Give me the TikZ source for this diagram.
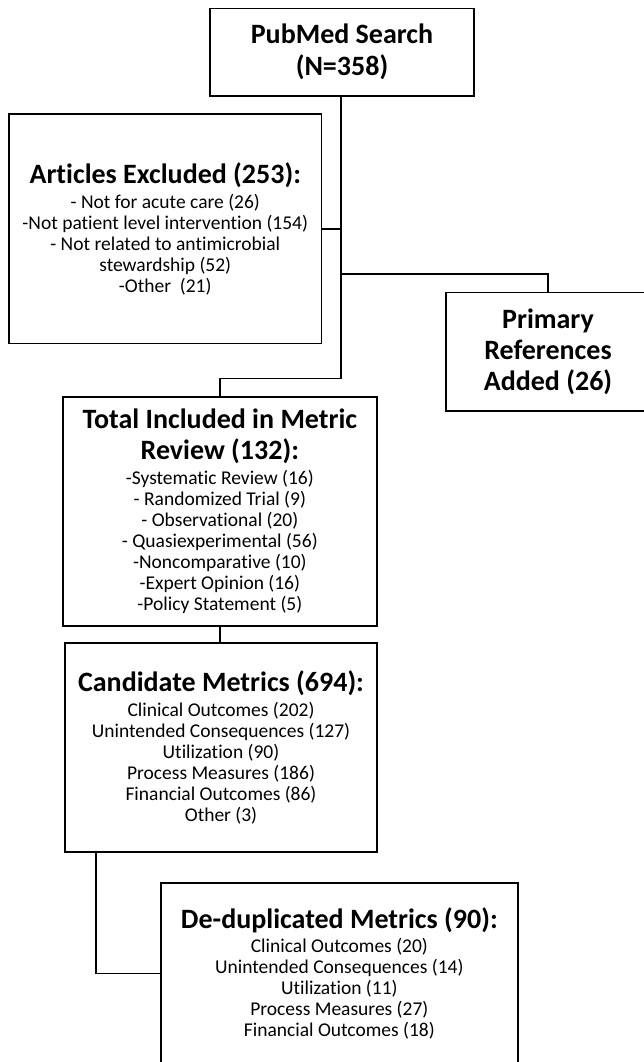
\documentclass[tikz,border=0pt]{standalone}
\usepackage{fontspec}
\setmainfont{Carlito}[Ligatures=NoCommon]
\usetikzlibrary{calc}
\newcommand{\hdr}{\fontsize{28}{21}\selectfont\bfseries}
\newcommand{\bdy}{\fontsize{19.5}{21}\selectfont\lineskiplimit=-50pt\lineskip=0pt}
\tikzset{
  box/.style={draw=black, line width=1.6pt, align=center, inner sep=0pt,
    font=\bdy, anchor=center},
  conn/.style={draw=black, line width=1.6pt}
}
\begin{document}
\begin{tikzpicture}[x=1pt,y=1pt]
\useasboundingbox (0,0) rectangle (644,-1062);
\clip (0,0) rectangle (644,-1062);
\fill[white] (0,0) rectangle (644,-1062);

\node[box, minimum width=264, minimum height=87.7] (pub) at (342,-52.2)
  {{\hdr PubMed Search}\\[11pt]{\hdr (N=358)}};

\node[box, minimum width=312.5, minimum height=229] (art) at (165.25,-228.8)
  {{\hdr Articles Excluded (253):}\\[3.5pt]
   - Not for acute care (26)\\
   -Not patient level intervention (154)\\
   - Not related to antimicrobial\\
   stewardship (52)\\
   -Other~ (21)};

\node[box, minimum width=204, minimum height=118.7] (prim) at (548,-351.7)
  {{\hdr Primary}\\[10pt]{\hdr References}\\[10pt]{\hdr Added (26)}};

\node[box, minimum width=314.3, minimum height=229] (tot) at (219.85,-511.2)
  {{\hdr Total Included in Metric}\\[10pt]{\hdr Review (132):}\\[3.5pt]
   -Systematic Review (16)\\
   - Randomized Trial (9)\\
   - Observational (20)\\
   - Quasiexperimental (56)\\
   -Noncomparative (10)\\
   -Expert Opinion (16)\\
   -Policy Statement (5)};

\node[box, minimum width=312, minimum height=209] (cand) at (221,-747.5)
  {{\hdr Candidate Metrics (694):}\\[3.5pt]
   Clinical Outcomes (202)\\
   Unintended Consequences (127)\\
   Utilization (90)\\
   Process Measures (186)\\
   Financial Outcomes (86)\\
   Other (3)};

\node[box, minimum width=357.3, minimum height=181] (ded) at (339.35,-973.3)
  {{\hdr De-duplicated Metrics (90):}\\[3.5pt]
   Clinical Outcomes (20)\\
   Unintended Consequences (14)\\
   Utilization (11)\\
   Process Measures (27)\\
   Financial Outcomes (18)};

\coordinate (j1) at ($(pub.south)+(-1,0)$);
\coordinate (jp) at (j1 |- 0,-274);
\coordinate (jt) at (j1 |- 0,-378.3);
\coordinate (c1) at ($(cand.south west)+(31.7,0)$);

\draw[conn] (j1) -- (jt) -| (tot.north);
\draw[conn] (art.east) -- (art.east -| j1);
\draw[conn] (jp) -| (prim.north);
\draw[conn] (tot.south) -- (tot.south |- cand.north);
\draw[conn] (c1) |- (ded.west);
\end{tikzpicture}
\end{document}
